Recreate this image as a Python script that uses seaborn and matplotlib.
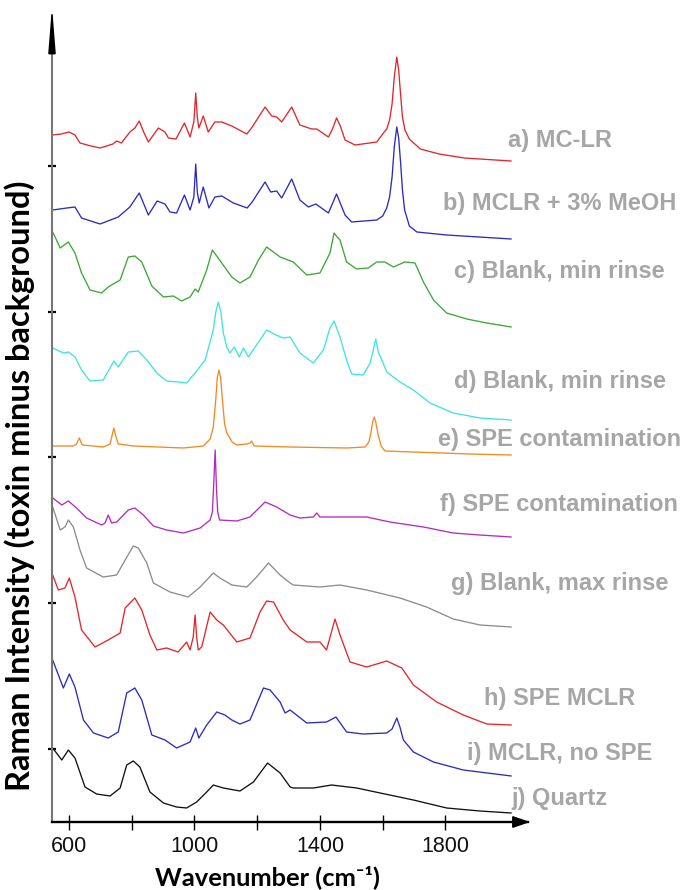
import matplotlib
matplotlib.use("Agg")
import matplotlib.pyplot as plt
import pandas as pd
import seaborn as sns
from matplotlib.patches import Polygon
from matplotlib import font_manager

# ---------------- data (wavenumber cm-1, stacked intensity a.u.) ----------------
a_pts = [(548, 687), (575, 688), (600, 690), (619, 687), (635, 679), (670, 676), (699, 674),
         (740, 678), (752, 681), (767, 679), (794, 690), (810, 694), (824, 701), (838, 690),
         (853, 680), (885, 694), (906, 690), (917, 684), (941, 683), (968, 699), (986, 685),
         (998, 700), (1004, 729), (1009, 705), (1014, 694), (1028, 706), (1044, 690), (1065, 700),
         (1087, 700), (1119, 696), (1167, 688), (1182, 694), (1225, 715), (1246, 706), (1262, 705),
         (1278, 700), (1310, 715), (1336, 697), (1374, 693), (1390, 693), (1427, 685), (1440, 693),
         (1453, 704), (1465, 696), (1480, 682), (1512, 677), (1581, 680), (1600, 688), (1613, 693),
         (1622, 702), (1630, 718), (1637, 745), (1645, 765), (1651, 752), (1657, 728), (1663, 705),
         (1671, 692), (1685, 683), (1720, 673), (1780, 668), (1860, 664), (2010, 661)]
b_pts = [(548, 612), (593, 614), (619, 615), (640, 604), (699, 598), (757, 605), (794, 615),
         (824, 629), (853, 607), (881, 621), (906, 618), (922, 610), (943, 609), (968, 627),
         (986, 612), (998, 625), (1004, 658), (1009, 630), (1015, 619), (1028, 635), (1046, 614),
         (1065, 625), (1087, 626), (1124, 619), (1168, 614), (1184, 620), (1225, 640), (1243, 630),
         (1262, 631), (1278, 624), (1310, 643), (1336, 622), (1363, 615), (1387, 618), (1427, 609),
         (1453, 628), (1480, 607), (1501, 600), (1581, 602), (1600, 606), (1613, 614), (1622, 625),
         (1630, 645), (1637, 675), (1645, 695), (1651, 684), (1657, 660), (1663, 632), (1670, 612),
         (1685, 596), (1709, 590), (1804, 587), (2010, 583)]
c_pts = [(548, 590), (572, 574), (598, 580), (619, 569), (640, 549), (667, 532), (704, 529),
         (725, 535), (763, 542), (789, 565), (810, 566), (832, 560), (864, 536), (901, 525),
         (933, 526), (959, 521), (986, 525), (1002, 533), (1012, 530), (1039, 552), (1057, 572),
         (1087, 559), (1119, 545), (1145, 539), (1177, 545), (1204, 562), (1230, 575), (1273, 565),
         (1315, 560), (1358, 547), (1400, 549), (1432, 569), (1445, 589), (1455, 585), (1464, 582),
         (1485, 560), (1517, 553), (1554, 554), (1581, 560), (1607, 560), (1634, 555), (1671, 560),
         (1703, 559), (1730, 540), (1762, 522), (1804, 509), (1868, 503), (1932, 499), (2010, 495)]
d_pts = [(548, 474), (582, 469), (598, 470), (619, 465), (640, 452), (667, 441), (709, 442),
         (731, 454), (743, 461), (757, 455), (789, 470), (821, 471), (848, 462), (880, 449),
         (911, 441), (948, 440), (975, 439), (1002, 449), (1034, 462), (1060, 492), (1068, 510),
         (1076, 520), (1084, 510), (1092, 489), (1103, 475), (1113, 469), (1127, 475), (1143, 465),
         (1156, 474), (1172, 465), (1198, 477), (1230, 492), (1260, 487), (1283, 484), (1305, 485),
         (1336, 469), (1379, 459), (1411, 472), (1432, 494), (1445, 501), (1464, 485), (1485, 462),
         (1501, 448), (1538, 447), (1560, 459), (1570, 472), (1578, 483), (1586, 470), (1600, 460),
         (1613, 450), (1655, 440), (1698, 432), (1751, 419), (1825, 409), (1910, 404), (2010, 402)]
e_pts = [(548, 376), (614, 376), (624, 378), (633, 384), (642, 377), (709, 375), (731, 378),
         (737, 386), (743, 394), (750, 385), (757, 378), (805, 376), (965, 374), (1028, 376),
         (1050, 383), (1060, 395), (1067, 419), (1073, 445), (1078, 452), (1083, 445), (1090, 419),
         (1096, 398), (1103, 389), (1120, 380), (1135, 377), (1167, 378), (1177, 379), (1182, 381),
         (1190, 376), (1305, 375), (1485, 374), (1544, 375), (1556, 380), (1563, 390), (1568, 400),
         (1573, 405), (1578, 400), (1585, 388), (1595, 376), (1607, 371), (1698, 370), (1878, 368),
         (2010, 367)]
f_pts = [(548, 324), (577, 317), (598, 321), (624, 314), (656, 304), (704, 297), (715, 299),
         (725, 307), (736, 299), (752, 300), (789, 312), (810, 314), (837, 307), (869, 296),
         (911, 292), (965, 289), (1018, 294), (1050, 302), (1057, 310), (1061, 335), (1066, 372),
         (1070, 335), (1074, 310), (1080, 302), (1135, 301), (1177, 305), (1225, 320), (1262, 315),
         (1305, 307), (1336, 304), (1379, 305), (1390, 309), (1400, 305), (1485, 305), (1549, 305),
         (1623, 300), (1730, 295), (1825, 289), (1910, 287), (2010, 285)]
g_pts = [(548, 315), (572, 292), (587, 295), (598, 302), (614, 295), (635, 272), (656, 254),
         (709, 245), (752, 247), (779, 262), (805, 276), (821, 274), (848, 259), (869, 239),
         (922, 230), (980, 225), (1018, 235), (1060, 249), (1081, 244), (1119, 237), (1167, 235),
         (1198, 245), (1236, 259), (1273, 247), (1305, 239), (1315, 237), (1400, 235), (1464, 237),
         (1549, 232), (1655, 224), (1740, 215), (1825, 203), (1910, 197), (2010, 195)]
h_pts = [(548, 247), (566, 232), (587, 234), (601, 244), (619, 225), (640, 192), (683, 175),
         (725, 182), (763, 189), (779, 214), (810, 224), (832, 212), (858, 187), (880, 172),
         (911, 174), (948, 170), (975, 180), (986, 172), (996, 185), (1002, 207), (1007, 185),
         (1012, 172), (1023, 175), (1050, 210), (1071, 202), (1092, 197), (1135, 180), (1177, 184),
         (1209, 210), (1230, 221), (1252, 220), (1283, 202), (1305, 192), (1358, 180), (1400, 180),
         (1421, 172), (1448, 203), (1464, 187), (1496, 160), (1549, 155), (1613, 161), (1661, 154),
         (1698, 137), (1772, 120), (1857, 107), (1932, 98), (2010, 97)]
i_pts = [(548, 162), (582, 134), (601, 148), (619, 135), (646, 102), (678, 89), (725, 84),
         (757, 90), (784, 129), (810, 134), (832, 122), (864, 87), (906, 82), (943, 74), (986, 80),
         (1004, 94), (1014, 84), (1039, 97), (1071, 110), (1097, 107), (1119, 102), (1145, 98),
         (1177, 102), (1220, 134), (1241, 132), (1273, 120), (1289, 109), (1305, 112), (1358, 99),
         (1421, 100), (1451, 105), (1485, 90), (1538, 88), (1613, 89), (1630, 93), (1645, 104),
         (1655, 95), (1666, 82), (1698, 70), (1762, 60), (1857, 52), (2010, 46)]
j_pts = [(548, 74), (577, 62), (598, 72), (619, 64), (651, 35), (688, 28), (731, 26), (763, 34),
         (784, 57), (805, 61), (826, 55), (858, 30), (901, 19), (943, 15), (975, 14), (1007, 20),
         (1039, 30), (1060, 37), (1092, 34), (1145, 31), (1188, 40), (1233, 59), (1273, 49),
         (1305, 35), (1315, 34), (1379, 34), (1437, 37), (1517, 34), (1592, 29), (1698, 22),
         (1804, 14), (1910, 11), (2010, 9)]

series_pts = [a_pts, b_pts, c_pts, d_pts, e_pts, f_pts, g_pts, h_pts, i_pts, j_pts]
labels = ["a) MC-LR", "b) MCLR + 3% MeOH", "c) Blank, min rinse", "d) Blank, min rinse",
          "e) SPE contamination", "f) SPE contamination", "g) Blank, max rinse",
          "h) SPE MCLR", "i) MCLR, no SPE", "j) Quartz"]
colors = ["#e3262b", "#2b2bc0", "#3aa836", "#3fe3e3", "#f08a24", "#b22cc0", "#8c8c8c",
          "#e3262b", "#2b2bc0", "#111111"]
label_baseline_px = [147, 210, 278, 388, 446, 511, 590, 705, 760, 805]

x_ticks = [600, 800, 1000, 1200, 1400, 1600, 1800]
x_tick_labels = ["600", "", "1000", "", "1400", "", "1800"]
y_ticks = [73, 219, 365, 510, 656]

# ---------------- figure ----------------
sns.set_style("white")
plt.rcParams["font.family"] = ["Liberation Sans", "DejaVu Sans"]

W, H = 685, 890
fig = plt.figure(figsize=(W / 100, H / 100), dpi=100)
ax = fig.add_axes([52 / W, (H - 822) / H, 476 / W, 807 / H])

for pts, col in zip(series_pts, colors):
    df = pd.DataFrame(pts, columns=["wn", "I"])
    sns.lineplot(data=df, x="wn", y="I", color=col, lw=0.95, ax=ax, estimator=None)

ax.set_xlim(545.8, 2063.3)
ax.set_ylim(0, 807)
ax.set_xlabel("")
ax.set_ylabel("")

for s in ["top", "right"]:
    ax.spines[s].set_visible(False)
ax.spines["left"].set_color("#777777")
ax.spines["left"].set_linewidth(1.5)
ax.spines["bottom"].set_color("black")
ax.spines["bottom"].set_linewidth(1.7)

# axis arrows
ax.add_patch(Polygon([[-0.0065, 0.952], [0.0065, 0.952], [0.0, 1.0]], closed=True,
                     transform=ax.transAxes, color="black", clip_on=False, zorder=5))
ax.add_patch(Polygon([[0.968, -0.0065], [0.968, 0.0065], [1.0, 0.0]], closed=True,
                     transform=ax.transAxes, color="black", clip_on=False, zorder=5))

names = {f.name for f in font_manager.fontManager.ttflist}
tick_family = "Liberation Sans Narrow" if "Liberation Sans Narrow" in names else "Liberation Sans"
tick_size = 17.5 if tick_family == "Liberation Sans Narrow" else 15.5

ax.set_xticks(x_ticks)
ax.set_xticklabels(x_tick_labels, fontsize=tick_size, family=tick_family)
ax.tick_params(axis="x", bottom=True, direction="inout", length=10.8, width=1.0,
               color="black", pad=5, labelcolor="#111111")
ax.set_yticks(y_ticks)
ax.tick_params(axis="y", left=True, direction="inout", length=6, width=1.6,
               color="black", labelleft=False)

# ---------------- texts ----------------
def fit(txt, target, dim="width"):
    fig.canvas.draw()
    r = fig.canvas.get_renderer()
    bb = txt.get_window_extent(renderer=r)
    cur = bb.width if dim == "width" else bb.height
    txt.set_fontsize(txt.get_fontsize() * target / cur)

ref = fig.text(559.5 / W, 0.5, labels[4], ha="center", va="baseline", fontsize=17,
               fontweight="bold", family=["Liberation Sans", "DejaVu Sans"])
fit(ref, 243)
lab_fs = ref.get_fontsize()
ref.remove()

for lab, base in zip(labels, label_baseline_px):
    fig.text(559.5 / W, 1 - base / H, lab, ha="center", va="baseline", fontsize=lab_fs,
             fontweight="bold", color="#a6a6a6", family=["Liberation Sans", "DejaVu Sans"])

xl = fig.text(267.5 / W, 1 - 885 / H, "Wavenumber (cm\u207b\u00b9)", ha="center", va="baseline",
              fontsize=18, fontweight="bold", color="black", family=["Lato", "DejaVu Sans"])
fit(xl, 225)

yl = fig.text(20 / W, 1 - 486 / H, "Raman Intensity (toxin minus background)", rotation=90,
              ha="center", va="center", fontsize=18, fontweight="bold", color="black",
              family=["Lato", "DejaVu Sans"])
fit(yl, 612, dim="height")

fig.savefig("out.png", dpi=100)
